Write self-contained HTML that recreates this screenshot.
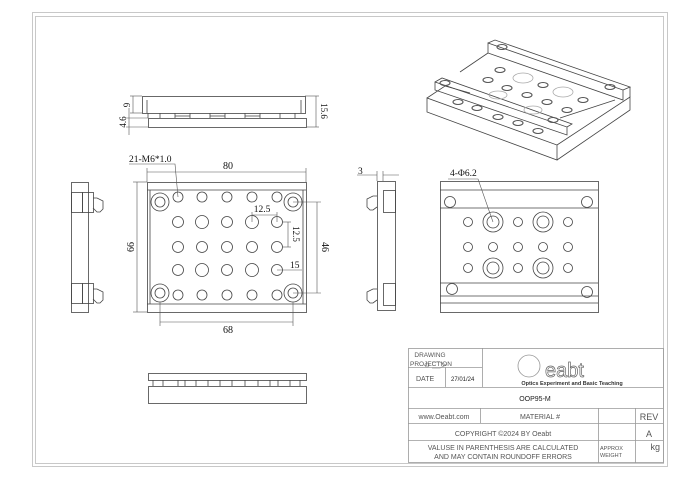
<!DOCTYPE html>
<html><head><meta charset="utf-8"><style>
html,body{margin:0;padding:0;background:#fff;}
svg{display:block}
.t{font-family:"Liberation Serif",serif;fill:#111}
.s{font-family:"Liberation Sans",sans-serif;fill:#555}
</style></head><body>
<svg width="700" height="478" viewBox="0 0 700 478" xmlns="http://www.w3.org/2000/svg">
<g fill="none" stroke="#c8c8c8" stroke-width="1">
<rect x="32.5" y="12.5" width="635" height="454"/>
<rect x="35.5" y="16.5" width="628" height="447"/>
</g>
<!-- title block -->
<g fill="none" stroke="#999" stroke-width="0.8">
<rect x="408.5" y="348.5" width="255" height="114"/>
<line x1="408" y1="367.5" x2="482" y2="367.5"/>
<line x1="445.5" y1="367" x2="445.5" y2="387"/>
<line x1="482.5" y1="348" x2="482.5" y2="387"/>
<line x1="408" y1="387.5" x2="663" y2="387.5"/>
<line x1="408" y1="408.5" x2="663" y2="408.5"/>
<line x1="408" y1="423.5" x2="663" y2="423.5"/>
<line x1="408" y1="440.5" x2="663" y2="440.5"/>
<line x1="480.5" y1="408" x2="480.5" y2="423"/>
<line x1="598.5" y1="408" x2="598.5" y2="463"/>
<line x1="635.5" y1="408" x2="635.5" y2="463"/>
<circle cx="427" cy="365" r="2"/>
<path d="M432 362 L440 362 L446 365 L440 368 L432 368"/>
<circle cx="529" cy="366" r="11"/>
</g>
<g class="s">
<text x="430" y="357" font-size="6.5" text-anchor="middle">DRAWING</text>
<text x="410" y="366" font-size="6.5">PROJECTION</text>
<text x="416" y="381" font-size="7">DATE</text>
<text x="451" y="381" font-size="6" fill="#222">27/01/24</text>
<text x="545" y="377" font-size="20" fill="none" stroke="#666" stroke-width="0.7">eabt</text>
<text x="572" y="385" font-size="5.5" text-anchor="middle" fill="#333" font-weight="bold">Optics Experiment and Basic Teaching</text>
<text x="535" y="401" font-size="7" text-anchor="middle" fill="#222">OOP95-M</text>
<text x="444" y="419" font-size="7" text-anchor="middle">www.Oeabt.com</text>
<text x="540" y="419" font-size="7" text-anchor="middle">MATERIAL #</text>
<text x="649" y="420" font-size="9" text-anchor="middle">REV</text>
<text x="503" y="436" font-size="7" text-anchor="middle">COPYRIGHT ©2024 BY Oeabt</text>
<text x="649" y="437" font-size="9" text-anchor="middle">A</text>
<text x="503" y="450" font-size="7" text-anchor="middle">VALUSE IN PARENTHESIS ARE CALCULATED</text>
<text x="503" y="459" font-size="7" text-anchor="middle">AND MAY CONTAIN ROUNDOFF ERRORS</text>
<text x="600" y="450" font-size="5.5">APPROX</text>
<text x="600" y="457" font-size="5.5">WEIGHT</text>
<text x="660" y="450" font-size="9" text-anchor="end">kg</text>
</g>

<g fill="none" stroke="#444" stroke-width="0.8">
<!-- top side view -->
<rect x="142.5" y="96.5" width="163" height="17"/>
<line x1="147" y1="100" x2="147" y2="113"/>
<line x1="301" y1="100" x2="301" y2="113"/>
<rect x="148.5" y="118.5" width="158" height="9"/>
<path d="M148 113v5M160 113v5M175 113v5M190 113v5M210 113v5M225 113v5M245 113v5M260 113v5M280 113v5M295 113v5"/>
<path d="M175 116h15M210 116h15M245 116h15"/>
<!-- top view plate -->
<rect x="147.5" y="182.5" width="159" height="130"/>
<line x1="147" y1="190" x2="306" y2="190"/>
<line x1="147" y1="304" x2="306" y2="304"/>
<line x1="150" y1="190" x2="150" y2="304"/>
<line x1="303" y1="190" x2="303" y2="304"/>
<g>
<circle cx="160" cy="202" r="9"/><circle cx="160" cy="202" r="5"/>
<circle cx="293" cy="202" r="9"/><circle cx="293" cy="202" r="5"/>
<circle cx="160" cy="293" r="9"/><circle cx="160" cy="293" r="5"/>
<circle cx="293" cy="293" r="9"/><circle cx="293" cy="293" r="5"/>
</g>
<g>
<circle cx="178" cy="197" r="5"/><circle cx="202" cy="197" r="5"/><circle cx="227" cy="197" r="5"/><circle cx="252" cy="197" r="5"/><circle cx="277" cy="197" r="5"/>
<circle cx="178" cy="222" r="5.5"/><circle cx="202" cy="222" r="6.5"/><circle cx="227" cy="222" r="5.5"/><circle cx="252" cy="222" r="6.5"/><circle cx="277" cy="222" r="5.5"/>
<circle cx="178" cy="247" r="5.5"/><circle cx="202" cy="247" r="5.5"/><circle cx="227" cy="247" r="5.5"/><circle cx="252" cy="247" r="5.5"/><circle cx="277" cy="247" r="5.5"/>
<circle cx="178" cy="270" r="5.5"/><circle cx="202" cy="270" r="6.5"/><circle cx="227" cy="270" r="5.5"/><circle cx="252" cy="270" r="6.5"/><circle cx="277" cy="270" r="5.5"/>
<circle cx="178" cy="295" r="5"/><circle cx="202" cy="295" r="5"/><circle cx="227" cy="295" r="5"/><circle cx="252" cy="295" r="5"/><circle cx="277" cy="295" r="5"/>
</g>
<!-- bottom side view -->
<rect x="148.5" y="373.5" width="158" height="7"/>
<rect x="148.5" y="386.5" width="158" height="17"/>
<path d="M153 380v6M163 380v6M178 380v6M185 380v6M196 380v6M208 380v6M220 380v6M232 380v6M245 380v6M258 380v6M270 380v6M278 380v6M290 380v6M300 380v6"/>
<!-- left side view -->
<rect x="71.5" y="182.5" width="17" height="130"/>
<rect x="71.5" y="192.5" width="11" height="20"/>
<rect x="82.5" y="192.5" width="11" height="20"/>
<path d="M93 198h4l6 3v8l-3 3h-3l-4-4"/>
<rect x="71.5" y="283.5" width="11" height="20"/>
<rect x="82.5" y="283.5" width="11" height="20"/>
<path d="M93 289h4l6 3v8l-3 3h-3l-4-4"/>
<!-- right side view -->
<rect x="377.5" y="181.5" width="18" height="129"/>
<rect x="383.5" y="190.5" width="12" height="22"/>
<path d="M377 196h-4l-6 3v8l3 3h3l4-3"/>
<rect x="383.5" y="283.5" width="12" height="22"/>
<path d="M377 289h-4l-6 3v8l3 3h3l4-3"/>
<!-- front view -->
<rect x="440.5" y="181.5" width="158" height="131"/>
<line x1="440" y1="190" x2="598" y2="190"/>
<line x1="440" y1="208" x2="598" y2="208"/>
<line x1="440" y1="283" x2="598" y2="283"/>
<line x1="440" y1="296" x2="598" y2="296"/>
<line x1="440" y1="303" x2="598" y2="303"/>
<circle cx="450" cy="202" r="5.5"/><circle cx="587" cy="202" r="5.5"/>
<circle cx="452" cy="289" r="5.5"/><circle cx="587" cy="292" r="5.5"/>
<circle cx="468" cy="222" r="4.5"/><circle cx="493" cy="222" r="10"/><circle cx="493" cy="222" r="6"/><circle cx="518" cy="222" r="4.5"/><circle cx="543" cy="222" r="10"/><circle cx="543" cy="222" r="6"/><circle cx="568" cy="222" r="4.5"/>
<circle cx="468" cy="247" r="4.5"/><circle cx="493" cy="247" r="4.5"/><circle cx="518" cy="247" r="4.5"/><circle cx="543" cy="247" r="4.5"/><circle cx="568" cy="247" r="4.5"/>
<circle cx="468" cy="268" r="4.5"/><circle cx="493" cy="268" r="10"/><circle cx="493" cy="268" r="6"/><circle cx="518" cy="268" r="4.5"/><circle cx="543" cy="268" r="10"/><circle cx="543" cy="268" r="6"/><circle cx="568" cy="268" r="4.5"/>
<!-- isometric -->
<path d="M427 98 L427 112 L557 160 L557 145 Z"/>
<path d="M557 145 L630 97 L630 110 L557 160"/>
<path d="M427 98 L445 86 L470 93"/>
<path d="M435 82 L567 127 L567 135 L435 90 Z"/>
<path d="M435 82 L442 78 L572 124 L567 127"/>
<path d="M488 43 L623 90 L623 100 L488 53 Z"/>
<path d="M488 43 L495 40 L630 87 L623 90"/>
<path d="M460 72 L488 53 M560 118 L615 100 M630 87 L630 97"/>
</g>
<g fill="none" stroke="#555" stroke-width="1.1">
<ellipse cx="502" cy="47" rx="5" ry="2.5"/><ellipse cx="500" cy="70" rx="5" ry="2.5"/><ellipse cx="488" cy="80" rx="5" ry="2.5"/>
<ellipse cx="507" cy="88" rx="5" ry="2.5"/><ellipse cx="543" cy="85" rx="5" ry="2.5"/><ellipse cx="527" cy="95" rx="5" ry="2.5"/>
<ellipse cx="547" cy="102" rx="5" ry="2.5"/><ellipse cx="583" cy="100" rx="5" ry="2.5"/><ellipse cx="567" cy="110" rx="5" ry="2.5"/>
<ellipse cx="445" cy="83" rx="5" ry="2.5"/><ellipse cx="458" cy="102" rx="5" ry="2.5"/><ellipse cx="477" cy="108" rx="5" ry="2.5"/>
<ellipse cx="498" cy="117" rx="5" ry="2.5"/><ellipse cx="518" cy="123" rx="5" ry="2.5"/><ellipse cx="538" cy="131" rx="5" ry="2.5"/>
<ellipse cx="553" cy="120" rx="5" ry="2.5"/><ellipse cx="610" cy="87" rx="5" ry="2.5"/>
</g>
<g fill="none" stroke="#aaa" stroke-width="0.8">
<ellipse cx="523" cy="78" rx="10" ry="5"/><ellipse cx="563" cy="92" rx="10" ry="5"/><ellipse cx="498" cy="95" rx="9" ry="4"/><ellipse cx="533" cy="110" rx="9" ry="4"/>
</g>
<!-- dimension lines -->
<g fill="none" stroke="#555" stroke-width="0.6">
<line x1="147" y1="172" x2="306" y2="172"/><line x1="147" y1="168" x2="147" y2="182"/><line x1="306" y1="168" x2="306" y2="182"/>
<line x1="137" y1="182" x2="137" y2="312"/><line x1="133" y1="182" x2="147" y2="182"/><line x1="133" y1="312" x2="147" y2="312"/>
<line x1="160" y1="322" x2="293" y2="322"/><line x1="160" y1="302" x2="160" y2="326"/><line x1="293" y1="302" x2="293" y2="326"/>
<line x1="317" y1="202" x2="317" y2="293"/><line x1="293" y1="202" x2="321" y2="202"/><line x1="293" y1="293" x2="321" y2="293"/>
<line x1="252" y1="215" x2="277" y2="215"/><line x1="252" y1="212" x2="252" y2="222"/><line x1="277" y1="212" x2="277" y2="222"/>
<line x1="288" y1="222" x2="288" y2="247"/><line x1="283" y1="222" x2="291" y2="222"/><line x1="283" y1="247" x2="291" y2="247"/>
<line x1="277" y1="270" x2="302" y2="270"/>
<path d="M129 164 H175 L178 197"/>
<line x1="130" y1="96" x2="142" y2="96"/><line x1="130" y1="113" x2="142" y2="113"/><line x1="133" y1="96" x2="133" y2="113"/>
<line x1="126" y1="118" x2="148" y2="118"/><line x1="126" y1="127" x2="148" y2="127"/><line x1="129" y1="108" x2="129" y2="135"/>
<line x1="305" y1="96" x2="319" y2="96"/><line x1="307" y1="127" x2="319" y2="127"/><line x1="316" y1="96" x2="316" y2="127"/>
<path d="M357 175 H377 M383 175 H399 M377 171v10 M383 171v10"/>
<path d="M448 179 H478 L493 222"/>
</g>
<g class="t" font-size="10">
<text x="228" y="169" text-anchor="middle">80</text>
<text x="228" y="333" text-anchor="middle">68</text>
<text x="129" y="162" font-size="9.5">21-M6*1.0</text>
<text x="262" y="212" text-anchor="middle" font-size="9.5">12.5</text>
<text x="290" y="268" font-size="9.5">15</text>
<text x="358" y="174" font-size="9.5">3</text>
<text x="450" y="176" font-size="9.5">4-Φ6.2</text>
<text transform="translate(137,247) rotate(-90)" text-anchor="middle" dy="-3">66</text>
<text transform="translate(321,247) rotate(90)" text-anchor="middle" dy="-1">46</text>
<text transform="translate(292,234) rotate(90)" text-anchor="middle" font-size="9" dy="-1">12.5</text>
<text transform="translate(131,105) rotate(-90)" text-anchor="middle" font-size="9" dy="-1">9</text>
<text transform="translate(127,122) rotate(-90)" text-anchor="middle" font-size="9" dy="-1">4.6</text>
<text transform="translate(320,111) rotate(90)" text-anchor="middle" font-size="9" dy="-1">15.6</text>
</g>
</svg>
</body></html>
